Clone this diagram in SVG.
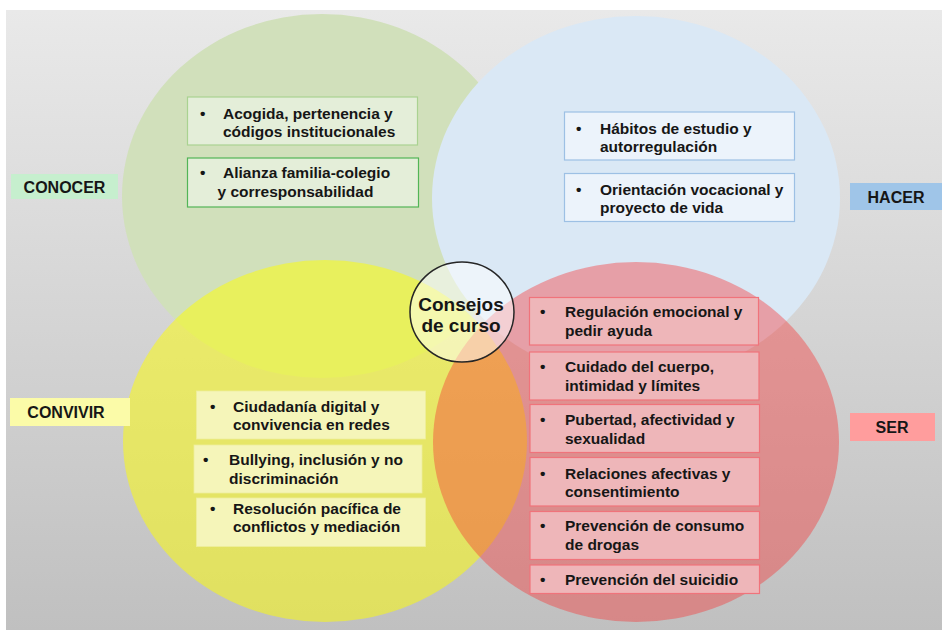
<svg xmlns="http://www.w3.org/2000/svg" width="942" height="631" viewBox="0 0 942 631">
<defs>
<linearGradient id="bg" x1="0" y1="0" x2="0" y2="1">
<stop offset="0" stop-color="#e9e9e9"/>
<stop offset="1" stop-color="#c0c0c0"/>
</linearGradient>
</defs>
<style>
text{font-family:"Liberation Sans",Arial,sans-serif;font-weight:bold;fill:#161616;font-size:15.5px}
.lbl{font-size:16px;text-anchor:middle}
.ctr{font-size:19px;text-anchor:middle}
.gb{fill:#e4eed9;stroke:#aad291;stroke-width:1.2}
.gb2{fill:#e4eed9;stroke:#52b556;stroke-width:1.2}
.bb{fill:#ecf3fb;stroke:#9dc0e4;stroke-width:1.2}
.yb{fill:#f5f5b9;stroke:#eeee9c;stroke-width:0.8}
.rb{fill:#eeb6b9;stroke:#f0737b;stroke-width:1.2}
</style>
<rect x="0" y="0" width="942" height="631" fill="#ffffff"/>
<rect x="6" y="10" width="936" height="620" fill="url(#bg)"/>
<g id="circles">
<ellipse cx="322" cy="196" rx="200" ry="182" fill="#d1e0bb"/>
<ellipse cx="636" cy="198" rx="204" ry="182" fill="#dae8f5"/>
<ellipse cx="325" cy="441" rx="202" ry="181" fill="#ffff00" fill-opacity="0.5"/>
<ellipse cx="636" cy="442" rx="203" ry="180" fill="#f83333" fill-opacity="0.4"/>
</g>
<g id="conocer">
<rect x="11" y="174" width="107" height="25" fill="#c6efce"/>
<text class="lbl" x="64.5" y="192.5">CONOCER</text>
</g>
<g id="hacer">
<rect x="850" y="183" width="92" height="27" fill="#9fc5e8"/>
<text class="lbl" x="896" y="202.5">HACER</text>
</g>
<g id="convivir">
<rect x="10" y="398" width="120" height="28" fill="#fbfba8"/>
<text class="lbl" x="66" y="417.5">CONVIVIR</text>
</g>
<g id="ser">
<rect x="850" y="413" width="85" height="28" fill="#ff9d9d"/>
<text class="lbl" x="892" y="432.5">SER</text>
</g>
<g id="center">
<ellipse cx="462" cy="312" rx="52" ry="50" fill="#ffffff" fill-opacity="0.5" stroke="#262626" stroke-width="1.5"/>
<text class="ctr" x="461" y="311">Consejos</text>
<text class="ctr" x="461" y="332">de curso</text>
</g>
<g id="g1">
<rect class="gb" x="187.5" y="97" width="230" height="48"/>
<text x="200" y="119">•</text><text x="223" y="119">Acogida, pertenencia y</text>
<text x="223" y="137">códigos institucionales</text>
</g>
<g id="g2">
<rect class="gb2" x="187.5" y="158" width="231" height="49"/>
<text x="200" y="178">•</text><text x="223" y="178">Alianza familia-colegio</text>
<text x="217.5" y="196.5">y corresponsabilidad</text>
</g>
<g id="b1">
<rect class="bb" x="564.5" y="112" width="230" height="48"/>
<text x="576" y="133.5">•</text><text x="600" y="133.5">Hábitos de estudio y</text>
<text x="600" y="152">autorregulación</text>
</g>
<g id="b2">
<rect class="bb" x="564.5" y="173.5" width="230" height="48"/>
<text x="576" y="194.5">•</text><text x="600" y="194.5">Orientación vocacional y</text>
<text x="600" y="213">proyecto de vida</text>
</g>
<g id="y1">
<rect class="yb" x="196.5" y="391" width="229" height="48"/>
<text x="210" y="411.5">•</text><text x="233" y="411.5">Ciudadanía digital y</text>
<text x="233" y="429.5">convivencia en redes</text>
</g>
<g id="y2">
<rect class="yb" x="194" y="445" width="228" height="48"/>
<text x="203" y="465">•</text><text x="229" y="465">Bullying, inclusión y no</text>
<text x="229" y="483.5">discriminación</text>
</g>
<g id="y3">
<rect class="yb" x="196.5" y="498" width="229" height="48.5"/>
<text x="210" y="513.5">•</text><text x="233" y="513.5">Resolución pacífica de</text>
<text x="233" y="532">conflictos y mediación</text>
</g>
<g id="r1">
<rect class="rb" x="529.5" y="297.5" width="229" height="47.5"/>
<text x="540" y="317">•</text><text x="565" y="317">Regulación emocional y</text>
<text x="565" y="335.5">pedir ayuda</text>
</g>
<g id="r2">
<rect class="rb" x="529.5" y="352" width="229.5" height="48"/>
<text x="540" y="372">•</text><text x="565" y="372">Cuidado del cuerpo,</text>
<text x="565" y="390.5">intimidad y límites</text>
</g>
<g id="r3">
<rect class="rb" x="530" y="404.5" width="229.5" height="48"/>
<text x="540" y="425">•</text><text x="565" y="425">Pubertad, afectividad y</text>
<text x="565" y="443.5">sexualidad</text>
</g>
<g id="r4">
<rect class="rb" x="530" y="457.5" width="229.5" height="48.5"/>
<text x="540" y="478.5">•</text><text x="565" y="478.5">Relaciones afectivas y</text>
<text x="565" y="497">consentimiento</text>
</g>
<g id="r5">
<rect class="rb" x="530" y="511.5" width="229.5" height="48"/>
<text x="540" y="531">•</text><text x="565" y="531">Prevención de consumo</text>
<text x="565" y="549.5">de drogas</text>
</g>
<g id="r6">
<rect class="rb" x="530" y="565" width="229.5" height="28.5"/>
<text x="540" y="584.5">•</text><text x="565" y="584.5">Prevención del suicidio</text>
</g>
<g id="connectors"/>
</svg>
